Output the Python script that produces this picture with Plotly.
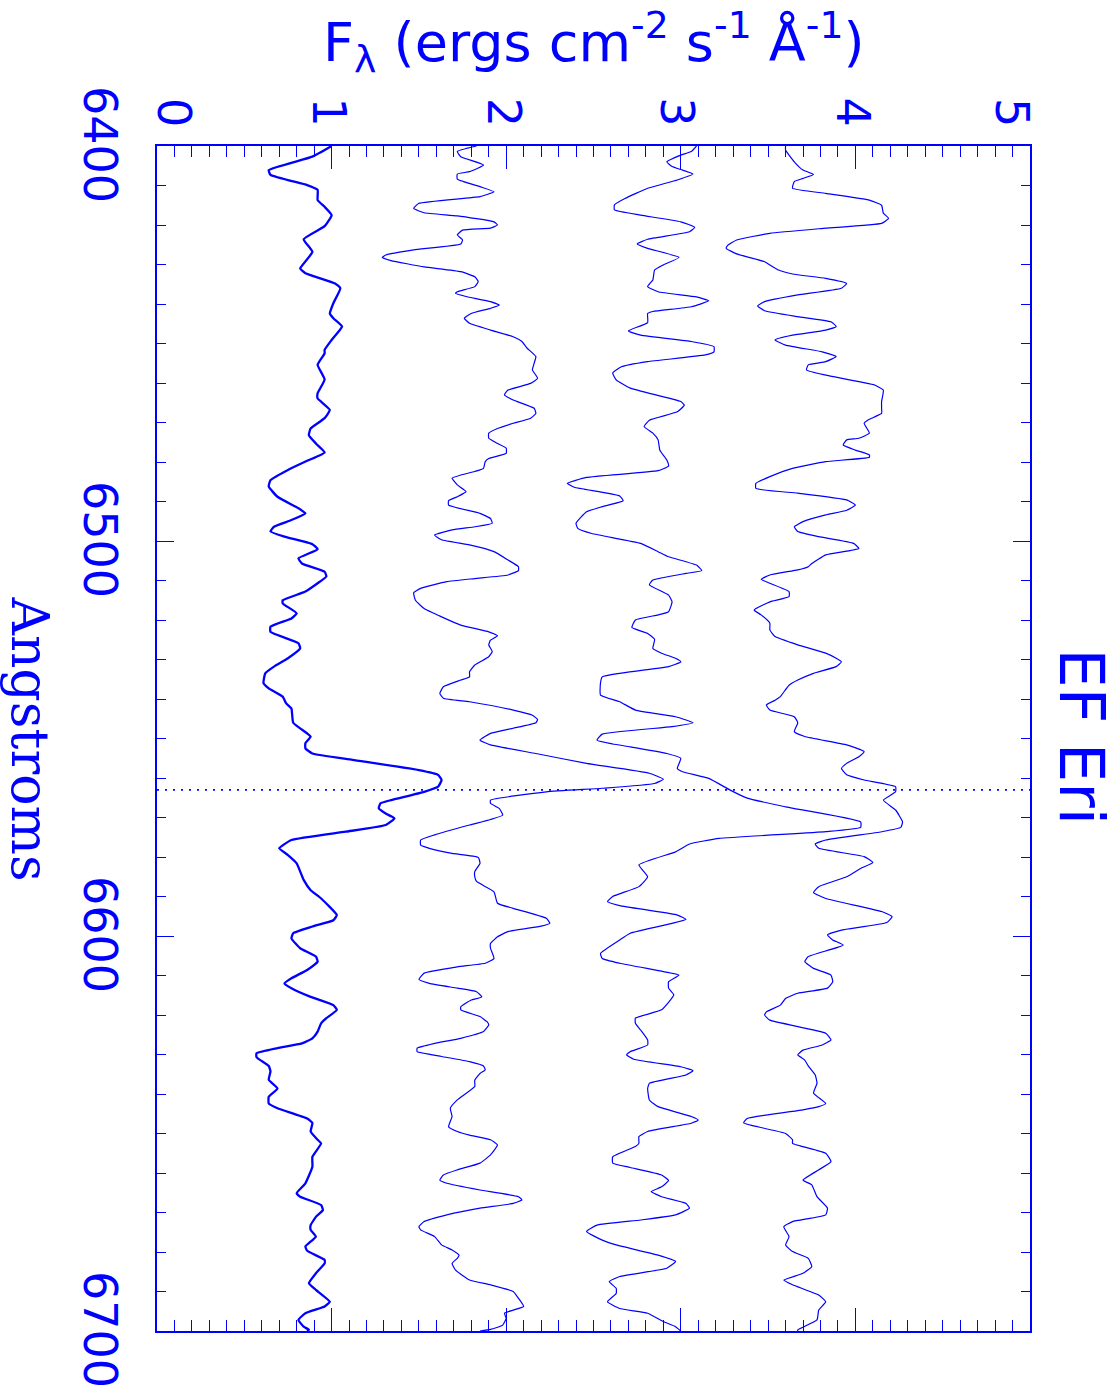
import plotly.graph_objects as go

BLUE = "#0000ff"

# Spectrum 1 (bold trace)
wave_a = [
    6400.0, 6402.7, 6406.1, 6407.3, 6409.9, 6411.1, 6413.7, 6415.4, 6417.5, 6420.3,
    6423.6, 6426.8, 6431.0, 6432.2, 6434.8, 6436.0, 6439.8, 6442.4, 6443.6, 6445.7,
    6449.1, 6451.6, 6452.5, 6455.4, 6459.1, 6462.6, 6463.9, 6466.8, 6468.9, 6471.5,
    6473.2, 6475.3, 6477.6, 6479.7, 6482.0, 6484.6, 6486.2, 6488.8, 6491.7, 6493.0,
    6494.7, 6496.4, 6497.6, 6498.9, 6500.8, 6502.1, 6504.4, 6505.7, 6507.8, 6509.0,
    6510.7, 6512.8, 6515.0, 6515.8, 6518.3, 6519.6, 6521.7, 6523.0, 6525.9, 6527.2,
    6529.7, 6531.8, 6533.5, 6536.0, 6537.3, 6539.4, 6541.1, 6542.4, 6546.0, 6548.7,
    6549.5, 6551.2, 6552.5, 6553.8, 6555.4, 6558.0, 6559.2, 6560.5, 6562.2, 6563.5,
    6565.6, 6566.4, 6567.7, 6569.0, 6570.2, 6571.9, 6573.6, 6575.7, 6577.8, 6579.5,
    6581.6, 6585.8, 6588.4, 6590.5, 6594.7, 6596.0, 6597.6, 6599.3, 6600.6, 6603.1,
    6605.2, 6606.5, 6608.6, 6610.7, 6612.0, 6613.2, 6615.4, 6617.5, 6618.7, 6620.8,
    6622.1, 6624.2, 6625.9, 6627.2, 6628.4, 6629.7, 6630.7, 6632.9, 6634.3, 6636.4,
    6638.6, 6640.7, 6642.4, 6643.6, 6646.2, 6647.3, 6649.5, 6651.6, 6652.5, 6655.9,
    6658.4, 6662.6, 6665.1, 6666.0, 6668.1, 6669.4, 6671.1, 6673.2, 6674.4, 6676.1,
    6678.6, 6679.7, 6682.0, 6682.9, 6685.4, 6687.9, 6689.6, 6692.6, 6693.8, 6695.5,
    6697.2, 6698.9, 6699.7, 6700.0,
]
flux_a = [
    1.00, 0.89, 0.64, 0.65, 0.86, 0.92, 0.92, 0.96, 1.00, 0.96,
    0.84, 0.89, 0.82, 0.85, 1.02, 1.05, 1.01, 0.99, 1.01, 1.06,
    1.00, 0.96, 0.96, 0.92, 0.96, 0.92, 0.92, 0.99, 0.96, 0.88,
    0.87, 0.91, 0.96, 0.86, 0.75, 0.65, 0.64, 0.69, 0.81, 0.85,
    0.77, 0.67, 0.65, 0.73, 0.89, 0.92, 0.81, 0.83, 0.96, 0.97,
    0.92, 0.85, 0.72, 0.72, 0.80, 0.77, 0.65, 0.65, 0.81, 0.82,
    0.75, 0.67, 0.62, 0.61, 0.64, 0.72, 0.74, 0.77, 0.78, 0.86,
    0.88, 0.85, 0.85, 0.89, 1.12, 1.50, 1.61, 1.63, 1.61, 1.53,
    1.34, 1.28, 1.27, 1.31, 1.36, 1.31, 1.08, 0.77, 0.70, 0.75,
    0.80, 0.84, 0.88, 0.94, 1.03, 1.01, 0.89, 0.78, 0.77, 0.82,
    0.91, 0.92, 0.86, 0.77, 0.73, 0.77, 0.88, 1.01, 1.03, 0.97,
    0.94, 0.92, 0.89, 0.83, 0.69, 0.57, 0.57, 0.64, 0.65, 0.64,
    0.69, 0.64, 0.64, 0.69, 0.86, 0.89, 0.88, 0.92, 0.94, 0.89,
    0.89, 0.85, 0.80, 0.82, 0.94, 0.95, 0.91, 0.88, 0.88, 0.91,
    0.85, 0.86, 0.96, 0.96, 0.91, 0.87, 0.91, 0.99, 0.96, 0.85,
    0.81, 0.84, 0.87, 0.86,
]

# Spectrum 2
wave_b = [
    6400.0, 6401.4, 6402.7, 6404.8, 6406.5, 6407.1, 6408.4, 6410.3, 6411.6, 6412.8,
    6414.5, 6415.8, 6416.9, 6417.7, 6419.2, 6420.0, 6420.8, 6421.3, 6422.5, 6423.8,
    6424.8, 6426.3, 6427.6, 6428.2, 6429.0, 6430.6, 6431.8, 6433.1, 6434.3, 6435.6,
    6436.9, 6437.3, 6438.1, 6439.4, 6440.3, 6441.1, 6442.4, 6443.6, 6444.9, 6446.6,
    6448.3, 6449.5, 6451.2, 6453.3, 6455.0, 6456.7, 6458.8, 6460.1, 6461.8, 6463.0,
    6464.3, 6466.4, 6467.7, 6468.9, 6470.2, 6471.5, 6472.7, 6474.0, 6475.3, 6476.5,
    6477.8, 6479.1, 6479.9, 6481.6, 6482.4, 6483.3, 6484.1, 6485.8, 6487.5, 6488.8,
    6489.8, 6490.9, 6493.0, 6494.3, 6495.5, 6496.4, 6497.2, 6498.5, 6499.7, 6501.0,
    6502.7, 6504.8, 6506.5, 6507.5, 6508.6, 6509.5, 6510.3, 6512.0, 6513.1, 6515.0,
    6517.1, 6519.2, 6521.3, 6523.0, 6524.0, 6525.1, 6526.3, 6528.0, 6529.3, 6531.4,
    6533.1, 6534.4, 6535.2, 6536.9, 6538.6, 6539.8, 6540.7, 6542.8, 6544.1, 6545.2,
    6546.0, 6547.4, 6548.7, 6550.4, 6551.6, 6553.8, 6556.3, 6558.8, 6560.3, 6561.4,
    6562.6, 6563.5, 6565.6, 6566.4, 6567.7, 6569.4, 6570.5, 6571.9, 6574.4, 6575.7,
    6577.0, 6577.8, 6579.1, 6580.1, 6581.6, 6583.7, 6585.0, 6586.2, 6588.8, 6591.7,
    6593.0, 6595.5, 6596.8, 6597.5, 6598.9, 6600.2, 6601.9, 6603.1, 6605.7, 6606.9,
    6607.8, 6609.4, 6611.0, 6612.0, 6613.2, 6614.1, 6615.4, 6616.2, 6617.9, 6618.7,
    6620.4, 6621.7, 6622.5, 6624.2, 6625.9, 6627.2, 6628.4, 6629.3, 6630.5, 6631.8,
    6632.9, 6633.9, 6634.8, 6636.5, 6638.1, 6641.5, 6643.6, 6645.7, 6648.3, 6649.5,
    6650.4, 6651.6, 6652.9, 6655.4, 6657.5, 6659.2, 6660.5, 6661.8, 6662.6, 6664.3,
    6666.0, 6666.8, 6667.7, 6668.9, 6670.6, 6672.3, 6673.6, 6674.4, 6676.1, 6678.2,
    6679.5, 6680.8, 6681.6, 6682.9, 6684.6, 6687.1, 6688.3, 6690.0, 6691.7, 6693.8,
    6694.7, 6695.5, 6696.8, 6698.5, 6699.6, 6700.0,
]
flux_b = [
    1.83, 1.72, 1.74, 1.87, 1.79, 1.72, 1.72, 1.85, 1.93, 1.85,
    1.50, 1.47, 1.53, 1.72, 1.93, 1.95, 1.91, 1.75, 1.72, 1.75,
    1.74, 1.47, 1.31, 1.29, 1.34, 1.53, 1.74, 1.82, 1.84, 1.82,
    1.72, 1.71, 1.77, 1.91, 1.96, 1.91, 1.80, 1.76, 1.79, 1.91,
    2.04, 2.09, 2.12, 2.17, 2.16, 2.15, 2.18, 2.14, 2.01, 1.99,
    2.04, 2.16, 2.17, 2.14, 2.04, 1.95, 1.90, 1.90, 1.95, 2.00,
    2.00, 1.90, 1.88, 1.87, 1.82, 1.74, 1.69, 1.72, 1.77, 1.72,
    1.67, 1.67, 1.85, 1.91, 1.92, 1.82, 1.69, 1.59, 1.63, 1.79,
    1.93, 2.01, 2.07, 2.07, 2.01, 1.82, 1.66, 1.51, 1.47, 1.48,
    1.53, 1.63, 1.74, 1.90, 1.95, 1.91, 1.90, 1.92, 1.90, 1.82,
    1.79, 1.79, 1.74, 1.64, 1.62, 1.64, 1.79, 2.04, 2.15, 2.18,
    2.17, 2.04, 1.91, 1.85, 1.91, 2.17, 2.46, 2.82, 2.90, 2.85,
    2.55, 2.23, 1.91, 1.91, 1.96, 1.98, 1.91, 1.79, 1.59, 1.51,
    1.51, 1.56, 1.69, 1.84, 1.85, 1.82, 1.82, 1.83, 1.93, 1.95,
    2.04, 2.23, 2.25, 2.20, 2.01, 1.95, 1.91, 1.91, 1.93, 1.88,
    1.72, 1.53, 1.50, 1.56, 1.72, 1.83, 1.86, 1.80, 1.74, 1.74,
    1.85, 1.89, 1.90, 1.87, 1.74, 1.59, 1.49, 1.49, 1.63, 1.79,
    1.87, 1.88, 1.85, 1.82, 1.82, 1.72, 1.68, 1.69, 1.67, 1.72,
    1.79, 1.91, 1.95, 1.91, 1.85, 1.72, 1.64, 1.62, 1.66, 1.85,
    2.07, 2.09, 2.04, 1.85, 1.66, 1.53, 1.50, 1.51, 1.59, 1.63,
    1.69, 1.73, 1.72, 1.69, 1.71, 1.79, 1.91, 2.04, 2.07, 2.10,
    2.04, 1.99, 2.00, 1.98, 1.91, 1.85,
]

# Spectrum 3
wave_c = [
    6400.0, 6401.4, 6402.3, 6404.0, 6405.2, 6406.1, 6407.1, 6408.6, 6410.7, 6413.3,
    6414.9, 6416.2, 6417.5, 6419.2, 6420.6, 6421.7, 6423.6, 6424.8, 6425.9, 6428.2,
    6430.1, 6431.4, 6433.9, 6435.6, 6436.9, 6438.2, 6439.2, 6440.7, 6441.9, 6442.4,
    6444.7, 6446.8, 6447.9, 6449.5, 6450.8, 6452.1, 6452.9, 6454.6, 6455.9, 6457.5,
    6459.2, 6461.3, 6464.7, 6465.6, 6467.3, 6469.4, 6471.0, 6472.7, 6474.4, 6477.0,
    6479.5, 6481.0, 6482.2, 6483.9, 6485.4, 6486.4, 6488.6, 6489.8, 6491.3, 6492.6,
    6495.5, 6496.8, 6498.1, 6500.6, 6502.7, 6504.0, 6506.1, 6507.5, 6508.2, 6509.9,
    6511.1, 6513.7, 6515.4, 6517.9, 6518.7, 6520.0, 6521.9, 6523.4, 6524.9, 6527.2,
    6528.4, 6529.7, 6530.6, 6531.8, 6533.5, 6534.4, 6536.0, 6539.0, 6540.7, 6542.8,
    6544.5, 6546.0, 6547.0, 6548.9, 6550.4, 6551.4, 6552.1, 6553.8, 6555.0, 6557.6,
    6558.4, 6560.1, 6563.0, 6565.1, 6567.3, 6571.1, 6572.5, 6573.6, 6575.3, 6576.7,
    6578.7, 6582.0, 6585.0, 6587.5, 6590.0, 6591.3, 6592.3, 6594.7, 6595.8, 6596.8,
    6599.3, 6601.0, 6604.4, 6605.7, 6606.9, 6609.0, 6609.9, 6611.6, 6613.2, 6614.9,
    6618.7, 6620.8, 6622.1, 6623.8, 6626.3, 6627.6, 6629.3, 6630.1, 6631.2, 6633.1,
    6634.1, 6635.2, 6637.3, 6638.6, 6641.5, 6643.2, 6645.7, 6646.6, 6647.4, 6649.5,
    6650.8, 6652.5, 6653.3, 6655.9, 6657.5, 6658.6, 6660.5, 6661.9, 6663.5, 6664.7,
    6666.0, 6667.7, 6668.9, 6670.6, 6671.9, 6673.2, 6674.8, 6677.0, 6678.2, 6680.8,
    6682.4, 6684.1, 6686.2, 6687.5, 6689.2, 6690.5, 6692.6, 6694.3, 6695.5, 6697.6,
    6698.9, 6700.0,
]
flux_c = [
    3.09, 3.06, 3.00, 2.92, 2.95, 3.01, 3.07, 2.98, 2.81, 2.68,
    2.62, 2.62, 2.77, 3.00, 3.08, 3.05, 2.81, 2.75, 2.81, 2.99,
    2.90, 2.85, 2.84, 2.81, 2.87, 3.09, 3.16, 3.06, 2.84, 2.81,
    2.81, 2.70, 2.77, 3.06, 3.19, 3.19, 3.14, 2.81, 2.66, 2.61,
    2.63, 2.71, 3.00, 3.02, 2.98, 2.82, 2.79, 2.84, 2.87, 2.88,
    2.92, 2.93, 2.87, 2.46, 2.35, 2.39, 2.65, 2.67, 2.55, 2.46,
    2.40, 2.41, 2.49, 2.77, 2.87, 2.93, 3.09, 3.12, 3.03, 2.84,
    2.82, 2.93, 2.95, 2.93, 2.87, 2.74, 2.72, 2.81, 2.85, 2.84,
    2.89, 2.97, 3.00, 2.93, 2.65, 2.55, 2.54, 2.54, 2.65, 2.74,
    2.97, 3.07, 2.95, 2.55, 2.52, 2.61, 2.71, 2.92, 3.00, 2.98,
    3.01, 3.16, 3.28, 3.38, 3.60, 4.03, 4.03, 3.83, 3.22, 3.05,
    2.97, 2.76, 2.81, 2.76, 2.61, 2.58, 2.65, 2.98, 3.03, 2.95,
    2.71, 2.65, 2.54, 2.55, 2.65, 2.90, 2.99, 2.93, 2.93, 2.96,
    2.89, 2.74, 2.74, 2.77, 2.81, 2.81, 2.71, 2.69, 2.73, 3.00,
    3.07, 3.03, 2.82, 2.81, 2.82, 2.87, 3.06, 3.10, 3.06, 2.81,
    2.76, 2.76, 2.74, 2.61, 2.61, 2.71, 2.89, 2.93, 2.89, 2.83,
    2.89, 3.03, 3.05, 2.97, 2.77, 2.52, 2.46, 2.55, 2.63, 2.87,
    2.97, 2.92, 2.65, 2.59, 2.63, 2.63, 2.58, 2.65, 2.81, 2.90,
    2.97, 3.00,
]

# Spectrum 4
wave_d = [
    6400.0, 6401.0, 6404.0, 6406.1, 6407.2, 6408.2, 6409.0, 6410.7, 6412.0, 6413.7,
    6415.0, 6417.0, 6418.3, 6419.6, 6420.8, 6422.1, 6423.8, 6425.1, 6425.9, 6427.3,
    6429.3, 6430.1, 6431.4, 6432.4, 6433.5, 6434.8, 6436.0, 6437.7, 6439.4, 6440.5,
    6441.7, 6443.2, 6444.5, 6445.7, 6446.6, 6447.9, 6449.1, 6450.4, 6452.1, 6453.3,
    6454.6, 6455.4, 6456.7, 6458.0, 6460.5, 6461.8, 6464.7, 6466.4, 6467.7, 6469.4,
    6470.2, 6472.7, 6474.0, 6474.4, 6475.7, 6477.0, 6478.2, 6478.8, 6479.9, 6481.6,
    6483.7, 6485.4, 6486.7, 6487.9, 6489.6, 6490.9, 6492.2, 6493.4, 6495.1, 6496.4,
    6497.6, 6498.9, 6500.6, 6501.9, 6503.5, 6505.7, 6506.5, 6507.3, 6508.6, 6509.7,
    6510.7, 6512.8, 6514.1, 6515.4, 6517.1, 6517.5, 6518.7, 6520.8, 6522.5, 6524.2,
    6526.3, 6528.4, 6529.7, 6530.6, 6531.8, 6533.5, 6535.2, 6536.5, 6539.4, 6540.3,
    6541.5, 6542.8, 6544.5, 6546.0, 6548.3, 6549.5, 6551.6, 6553.3, 6554.6, 6556.3,
    6557.6, 6559.2, 6560.5, 6562.2, 6563.5, 6565.6, 6568.1, 6571.1, 6572.5, 6573.6,
    6575.7, 6576.7, 6577.8, 6579.9, 6581.4, 6582.9, 6585.0, 6587.5, 6589.0, 6590.5,
    6593.8, 6595.1, 6596.6, 6598.5, 6599.7, 6601.0, 6602.3, 6605.2, 6606.5, 6608.2,
    6609.9, 6611.6, 6613.2, 6614.5, 6615.8, 6617.5, 6619.2, 6620.0, 6621.3, 6624.6,
    6626.3, 6627.6, 6628.9, 6630.1, 6631.4, 6632.9, 6635.2, 6637.3, 6639.8, 6642.4,
    6643.2, 6644.0, 6646.2, 6647.3, 6647.9, 6650.0, 6651.6, 6652.5, 6655.0, 6657.1,
    6659.2, 6661.8, 6663.0, 6666.0, 6668.9, 6670.6, 6672.3, 6673.6, 6676.1, 6678.2,
    6679.9, 6681.6, 6683.7, 6685.4, 6687.1, 6688.3, 6690.9, 6692.6, 6694.7, 6697.2,
    6699.7, 6700.0,
]
flux_d = [
    3.60, 3.60, 3.65, 3.70, 3.76, 3.70, 3.65, 3.64, 3.83, 4.08,
    4.15, 4.16, 4.19, 4.15, 3.83, 3.51, 3.32, 3.27, 3.26, 3.32,
    3.48, 3.51, 3.56, 3.64, 3.83, 3.95, 3.92, 3.67, 3.48, 3.44,
    3.48, 3.67, 3.86, 3.89, 3.83, 3.64, 3.54, 3.60, 3.81, 3.89,
    3.83, 3.73, 3.72, 3.83, 4.11, 4.16, 4.15, 4.15, 4.15, 4.07,
    4.05, 4.08, 4.02, 3.95, 3.93, 4.00, 4.08, 4.08, 3.83, 3.64,
    3.51, 3.43, 3.43, 3.67, 3.95, 4.00, 3.95, 3.83, 3.70, 3.65,
    3.67, 3.79, 3.99, 4.02, 3.83, 3.75, 3.73, 3.67, 3.51, 3.46,
    3.51, 3.62, 3.62, 3.51, 3.43, 3.42, 3.46, 3.51, 3.51, 3.54,
    3.67, 3.83, 3.89, 3.92, 3.89, 3.76, 3.67, 3.62, 3.57, 3.54,
    3.49, 3.51, 3.65, 3.67, 3.65, 3.71, 3.95, 4.05, 4.02, 3.95,
    3.92, 3.95, 4.05, 4.23, 4.23, 4.16, 4.23, 4.27, 4.26, 4.15,
    3.83, 3.77, 3.79, 4.05, 4.10, 4.03, 3.95, 3.79, 3.76, 3.83,
    4.15, 4.21, 4.18, 3.92, 3.84, 3.87, 3.93, 3.73, 3.71, 3.76,
    3.86, 3.87, 3.84, 3.67, 3.60, 3.57, 3.49, 3.48, 3.51, 3.83,
    3.86, 3.81, 3.70, 3.67, 3.71, 3.73, 3.77, 3.78, 3.76, 3.83,
    3.79, 3.70, 3.38, 3.36, 3.40, 3.60, 3.64, 3.64, 3.83, 3.86,
    3.79, 3.70, 3.75, 3.78, 3.84, 3.83, 3.64, 3.59, 3.62, 3.60,
    3.64, 3.73, 3.75, 3.70, 3.59, 3.64, 3.79, 3.83, 3.79, 3.78,
    3.67, 3.67,
]

h_alpha = 6563.0
flux_ticks = [0, 1, 2, 3, 4, 5]
wave_ticks = [6400, 6500, 6600, 6700]
flux_label_shift = [17, -3, -2, -4, -2, -18]

fig = go.Figure()

for wave, flux, width in [(wave_a, flux_a, 2.3), (wave_b, flux_b, 1.2),
                          (wave_c, flux_c, 1.2), (wave_d, flux_d, 1.2)]:
    fig.add_trace(go.Scatter(
        x=flux, y=wave, mode="lines",
        line=dict(color=BLUE, width=width, shape="spline", smoothing=0.4),
        showlegend=False, hoverinfo="skip",
    ))

# dotted H-alpha marker across the panel
fig.add_trace(go.Scatter(
    x=[flux_ticks[0], flux_ticks[-1]], y=[h_alpha, h_alpha], mode="lines",
    line=dict(color=BLUE, width=1.6, dash="2px,6px"),
    showlegend=False, hoverinfo="skip",
))

fig.update_layout(
    width=1118, height=1400,
    margin=dict(l=157, r=88, t=146, b=69),
    paper_bgcolor="white", plot_bgcolor="white",
    font=dict(family="DejaVu Sans", color=BLUE),
    showlegend=False,
)

fig.update_xaxes(
    range=[0, 5], side="top", showgrid=False, zeroline=False,
    showline=True, linecolor=BLUE, linewidth=1.5, mirror="ticks",
    ticks="inside", ticklen=23, tickwidth=1.2, tickcolor=BLUE,
    tick0=0, dtick=1, showticklabels=False,
    minor=dict(ticks="inside", ticklen=11, tickwidth=1.2, tickcolor=BLUE,
               tick0=0, dtick=0.1, showgrid=False),
)
fig.update_yaxes(
    range=[6700, 6400], showgrid=False, zeroline=False,
    showline=True, linecolor=BLUE, linewidth=1.5, mirror="ticks",
    ticks="inside", ticklen=17, tickwidth=1.2, tickcolor=BLUE,
    tick0=6400, dtick=100, showticklabels=False,
    minor=dict(ticks="inside", ticklen=9, tickwidth=1.2, tickcolor=BLUE,
               tick0=6400, dtick=10, showgrid=False),
)

annotations = []
for v, sh in zip(flux_ticks, flux_label_shift):
    annotations.append(dict(
        x=v, xref="x", y=1, yref="paper", text=str(v), showarrow=False,
        textangle=90, xanchor="center", yanchor="middle",
        xshift=sh, yshift=34, font=dict(size=46, color=BLUE),
    ))
for v in wave_ticks:
    annotations.append(dict(
        x=0, xref="paper", y=v, yref="y", text=str(v), showarrow=False,
        textangle=90, xanchor="center", yanchor="middle",
        xshift=-57, yshift=2, font=dict(size=46, color=BLUE),
    ))
annotations.append(dict(
    x=0, xref="paper", y=0.5, yref="paper", text="Angstroms", showarrow=False,
    textangle=90, xanchor="center", yanchor="middle", xshift=-127,
    font=dict(family="DejaVu Serif", size=52, color=BLUE),
))
annotations.append(dict(
    x=1, xref="paper", y=0.5, yref="paper", text="EF Eri", showarrow=False,
    textangle=90, xanchor="center", yanchor="middle", xshift=51, yshift=2,
    font=dict(size=62, color=BLUE),
))
annotations.append(dict(
    x=0.5, xref="paper", y=1, yref="paper",
    text="F<sub>λ</sub> (ergs cm<sup>-2</sup> s<sup>-1</sup> Å<sup>-1</sup>)",
    showarrow=False, xanchor="center", yanchor="middle", yshift=104,
    font=dict(size=54, color=BLUE),
))
fig.update_layout(annotations=annotations)

fig.write_html("out.html")
